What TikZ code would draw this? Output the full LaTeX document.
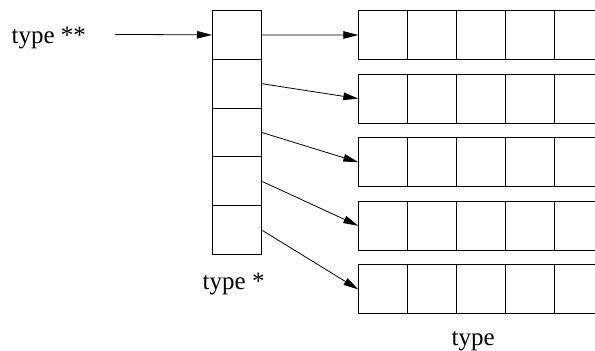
\documentclass[tikz,border=0pt]{standalone}
\usepackage{fontspec}
\setmainfont{Liberation Serif}
\usetikzlibrary{arrows.meta}
\begin{document}
\begin{tikzpicture}[x=1pt,y=-1pt,
  cellbox/.style={draw, line width=1pt, minimum width=48.85pt, minimum height=48.8pt, inner sep=0pt, anchor=north west},
  lbl/.style={inner sep=0pt, anchor=base west, font=\fontsize{25}{30}\selectfont},
  ptr/.style={line width=0.8pt, -{Triangle[length=15pt,width=7.5pt]}}]
\clip (0,0) rectangle (595,351);
% column of pointers
\foreach \i in {1,...,5}{
  \node[cellbox] (c\i) at (212, {10+48.8*(\i-1)}) {};
}
% rows
\foreach \r in {1,...,5}{
  \foreach \j in {1,...,5}{
    \node[cellbox, minimum height=49pt] (r\r-\j) at ({358.3+48.85*(\j-1)}, {10+63.6*(\r-1)}) {};
  }
}
\node[lbl] (tpp) at (11.5,43.3) {type **};
\coordinate (tstart) at (115,34.4);
\node[lbl] (tp) at (202.5,289) {type *};
\node[lbl] (t) at (451.5,345.7) {type};
\draw[ptr] (tstart) -- (c1.west);
\foreach \i in {1,...,5}{
  \draw[ptr] (c\i.east) -- (r\i-1.west);
}
\end{tikzpicture}
\end{document}
